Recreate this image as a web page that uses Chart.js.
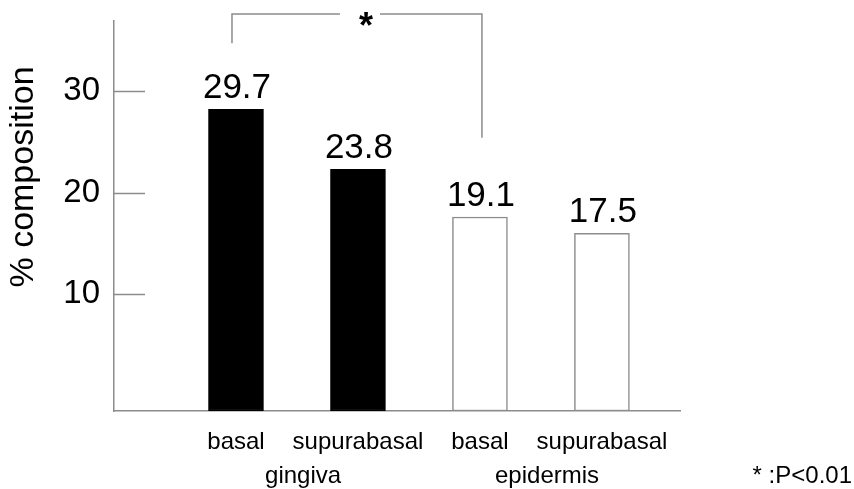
<!DOCTYPE html>
<html>
<head>
<meta charset="utf-8">
<script src="https://cdn.jsdelivr.net/npm/chart.js@4.4.0/dist/chart.umd.min.js"></script>
<style>
  html, body { margin: 0; padding: 0; background: #fff; }
  #wrap { width: 854px; height: 489px; }
</style>
</head>
<body>
<div id="wrap"><canvas id="myChart" width="854" height="489"></canvas></div>
<script>
let layers = ['basal', 'supurabasal', 'basal', 'supurabasal'];
let tissues = ['gingiva', 'epidermis'];
let composition = [29.7, 23.8, 19.1, 17.5];
let barFill = ['#000000', '#000000', '#ffffff', '#ffffff'];
let barEdge = ['#000000', '#000000', '#8c8c8c', '#8c8c8c'];
let yTickLabels = [10, 20, 30];
let yTickShift = 1.5; // ticks in the original sit a bit above the true values
let sigPair = [0, 2];  // basal gingiva vs basal epidermis
let sigNote = '* :P<0.01';

const axisGrey = '#8c8c8c';
const fontFam = "'Liberation Sans', Arial, Helvetica, sans-serif";
Chart.defaults.font.family = fontFam;
Chart.defaults.color = '#000';

// x ticks: one per bar, one per tissue group (under the middle of its two bars)
let xTicks = [];
layers.forEach((l, i) => xTicks.push({ value: i + 1, label: l }));
tissues.forEach((t, i) => xTicks.push({ value: i * 2 + 1.55, label: ['', t] }));
xTicks.sort((a, b) => a.value - b.value);

let extras = {
  id: 'extras',
  afterDraw(chart) {
    const ctx = chart.ctx;
    const area = chart.chartArea;
    const x = chart.scales.x, y = chart.scales.y;
    ctx.save();

    // inward tick marks on the y axis
    ctx.strokeStyle = axisGrey;
    ctx.lineWidth = 1.5;
    y.ticks.forEach(t => {
      const py = Math.round(y.getPixelForValue(t.value)) + 0.5;
      ctx.beginPath();
      ctx.moveTo(area.left, py);
      ctx.lineTo(area.left + 31, py);
      ctx.stroke();
    });

    // value labels
    const bars = chart.getDatasetMeta(0).data;
    ctx.fillStyle = '#000';
    ctx.font = '35px ' + fontFam;
    ctx.textAlign = 'center';
    ctx.textBaseline = 'alphabetic';
    bars.forEach((b, i) => {
      ctx.fillText(composition[i].toFixed(1), b.x + 1, b.y - 11);
    });

    // significance bracket
    const xa = bars[sigPair[0]].x - 4, xb = bars[sigPair[1]].x + 2;
    const top = y.getPixelForValue(39.1);
    const legA = y.getPixelForValue(36.2), legB = y.getPixelForValue(26.9);
    const mid = (xa + xb) / 2 + 9;
    ctx.beginPath();
    ctx.moveTo(xa, legA); ctx.lineTo(xa, top); ctx.lineTo(mid - 26, top);
    ctx.moveTo(mid + 14, top); ctx.lineTo(xb, top); ctx.lineTo(xb, legB);
    ctx.stroke();
    ctx.font = 'bold 36px ' + fontFam;
    ctx.fillText('*', mid, top + 24);

    // y axis title
    ctx.save();
    ctx.translate(24, 177);
    ctx.rotate(-Math.PI / 2);
    ctx.font = '34px ' + fontFam;
    ctx.textBaseline = 'middle';
    ctx.fillText('% composition', 0, 0);
    ctx.restore();

    // footnote
    ctx.font = '24px ' + fontFam;
    ctx.textAlign = 'right';
    ctx.fillText(sigNote, 852, 483);
    ctx.restore();
  }
};

let ctx = document.getElementById('myChart');
let myChart = new Chart(ctx, {
  type: 'bar',
  data: {
    datasets: [{
      data: composition.map((v, i) => ({ x: i + 1, y: v })),
      backgroundColor: barFill,
      borderColor: barEdge,
      borderWidth: 1.5,
      borderSkipped: false,
      barThickness: 55
    }]
  },
  options: {
    responsive: false,
    animation: false,
    devicePixelRatio: 1,
    layout: { padding: { left: 0, right: 174, top: 21, bottom: 0 } },
    plugins: { legend: { display: false }, tooltip: { enabled: false } },
    scales: {
      x: {
        type: 'linear',
        offset: false,
        min: 0,
        max: 4.64,
        grid: { display: false, drawTicks: false },
        border: { display: true, color: axisGrey, width: 1.5 },
        afterBuildTicks: s => { s.ticks = xTicks.map(t => ({ value: t.value })); },
        afterFit: s => { s.height = 78; s.paddingLeft = 0; s.paddingRight = 0; },
        ticks: {
          autoSkip: false,
          maxRotation: 0,
          minRotation: 0,
          padding: 15,
          font: { size: 24, lineHeight: 1.4 },
          callback: (v, i) => xTicks[i].label
        }
      },
      y: {
        min: 0,
        max: 38.4,
        grid: { display: false, drawTicks: false },
        border: { display: true, color: axisGrey, width: 1.5 },
        afterBuildTicks: s => { s.ticks = yTickLabels.map(v => ({ value: v + yTickShift })); },
        afterFit: s => { s.width = 114; s.paddingTop = 0; s.paddingBottom = 0; },
        ticks: {
          padding: 14,
          font: { size: 33 },
          callback: v => String(Math.round(v - yTickShift))
        }
      }
    }
  },
  plugins: [extras]
});
</script>
</body>
</html>
